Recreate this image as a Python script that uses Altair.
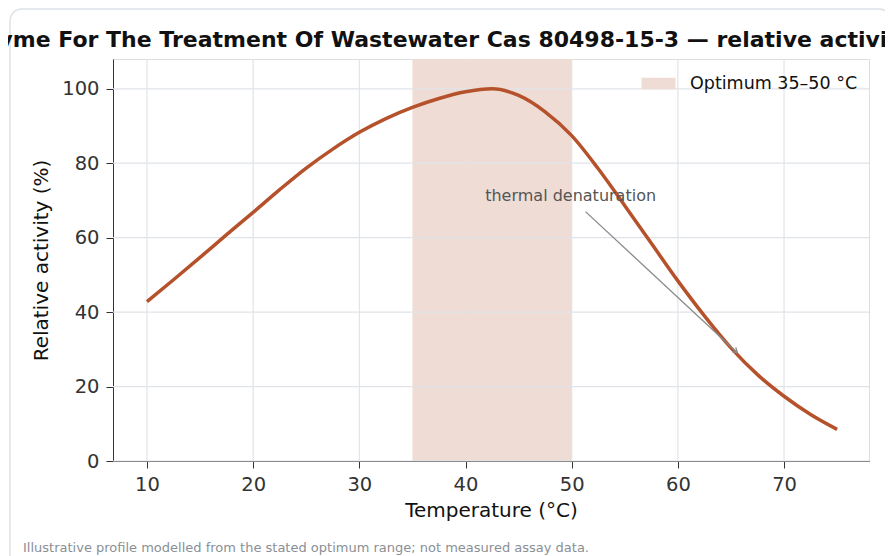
import altair as alt
import pandas as pd

# ---- data ----
temps = [10, 12.5, 15, 17.5, 20, 22.5, 25, 27.5, 30, 32.5, 35, 37.5, 40, 42.5,
         45, 47.5, 50, 52.5, 55, 57.5, 60, 62.5, 65, 67.5, 70, 72.5, 75]
activity = [42.8, 48.7, 54.7, 60.8, 66.8, 72.9, 78.7, 83.8, 88.3, 92.0, 95.0, 97.4, 99.2, 100.0,
            98.2, 93.8, 87.4, 78.5, 68.6, 58.5, 48.4, 39.0, 30.4, 23.2, 17.4, 12.5, 8.5]
band_label = "Optimum 35–50 °C"
band_start, band_end = 35, 50
x_ticks = [10, 20, 30, 40, 50, 60, 70]
y_ticks = [0, 20, 40, 60, 80, 100]
annot_text = "thermal denaturation"
annot_xy = (49.9, 71.3)
arrow_from = (51.3, 67.0)
arrow_to = (65.6, 29.1)
title_text = "Enzyme For The Treatment Of Wastewater Cas 80498-15-3 — relative activity"
footnote = "Illustrative profile modelled from the stated optimum range; not measured assay data."

LINE = "#b5522b"
BAND = "#efdcd5"
GRID = "#e0e4e9"
FONT = "DejaVu Sans"

W, H = 756, 402
XDOM = [6.8, 78.0]
YDOM = [0, 108]

curve = pd.DataFrame({"t": temps, "a": activity})
band = pd.DataFrame({"s": [band_start], "e": [band_end], "lab": [band_label]})

xs = alt.Scale(domain=XDOM, nice=False, zero=False)
ys = alt.Scale(domain=YDOM, nice=False, zero=False)

xaxis = alt.Axis(values=x_ticks, grid=False, labelFontSize=19.5, labelColor="#333",
                 titleFontSize=20, titleColor="#111", titleFontWeight="normal",
                 tickSize=7, tickColor="#333", domainColor="#333", labelPadding=7,
                 titlePadding=7, labelFont=FONT, titleFont=FONT)
yaxis = alt.Axis(values=y_ticks, grid=False, labelFontSize=19.5, labelColor="#333",
                 titleFontSize=20, titleColor="#111", titleFontWeight="normal",
                 tickSize=7, tickColor="#333", domainColor="#333", labelPadding=7,
                 titlePadding=10, labelFont=FONT, titleFont=FONT)

frame = alt.Chart(pd.DataFrame({"k": [0]})).mark_rect(
    fill=None, stroke="#dde1e6", strokeWidth=1.5, cornerRadius=12, clip=False
).encode(x=alt.value(-103), x2=alt.value(778), y=alt.value(-50), y2=alt.value(560))

band_layer = alt.Chart(band).mark_rect().encode(
    x=alt.X("s:Q", scale=xs, axis=xaxis, title="Temperature (°C)"),
    x2="e:Q",
    color=alt.Color("lab:N", scale=alt.Scale(domain=[band_label], range=[BAND]),
                    legend=alt.Legend(title=None, orient="none", legendX=534, legendY=13,
                                      symbolType="M-1.5,-0.5H1.5V0.5H-1.5Z", symbolSize=514,
                                      symbolStrokeWidth=0, labelFontSize=17.5, labelColor="#111",
                                      labelFont=FONT, padding=0, labelOffset=20, labelLimit=400)),
)

vgrid = alt.Chart(pd.DataFrame({"v": x_ticks})).mark_rule(color=GRID, strokeWidth=1.2).encode(
    x=alt.X("v:Q", scale=xs))
hgrid = alt.Chart(pd.DataFrame({"v": y_ticks})).mark_rule(color=GRID, strokeWidth=1.2).encode(
    y=alt.Y("v:Q", scale=ys, axis=yaxis, title="Relative activity (%)"))

line = alt.Chart(curve).mark_line(color=LINE, strokeWidth=3.5, interpolate="monotone").encode(
    x=alt.X("t:Q", scale=xs), y=alt.Y("a:Q", scale=ys))

arrow_df = pd.DataFrame({"x": [arrow_from[0]], "y": [arrow_from[1]],
                         "x2": [arrow_to[0]], "y2": [arrow_to[1]]})
arrow_line = alt.Chart(arrow_df).mark_rule(color="#8a8a8a", strokeWidth=1.3).encode(
    x=alt.X("x:Q", scale=xs), y=alt.Y("y:Q", scale=ys), x2="x2:Q", y2="y2:Q")
arrow_head = alt.Chart(arrow_df).mark_point(
    shape="M-1,-0.6L0,0L-1,0.6", filled=False, stroke="#8a8a8a", strokeWidth=1.3,
    size=90, angle=43, opacity=1
).encode(x=alt.X("x2:Q", scale=xs), y=alt.Y("y2:Q", scale=ys))

annot = alt.Chart(pd.DataFrame({"x": [annot_xy[0]], "y": [annot_xy[1]], "t": [annot_text]})).mark_text(
    fontSize=16, color="#555", font=FONT, align="center", baseline="middle"
).encode(x=alt.X("x:Q", scale=xs), y=alt.Y("y:Q", scale=ys), text="t:N")

title = alt.Chart(pd.DataFrame({"t": [title_text]})).mark_text(
    fontSize=22, fontWeight="bold", color="#111", font=FONT, align="left", baseline="alphabetic"
).encode(x=alt.value(-158), y=alt.value(-12), text="t:N")

foot = alt.Chart(pd.DataFrame({"t": [footnote]})).mark_text(
    fontSize=13, color="#8a8f96", font=FONT, align="left", baseline="alphabetic"
).encode(x=alt.value(-90), y=alt.value(493), text="t:N")

chart = alt.layer(frame, band_layer, vgrid, hgrid, line, arrow_line, arrow_head, annot, title, foot).properties(
    width=W, height=H,
    padding={"left": 105, "top": 51, "right": 16, "bottom": 95},
    autosize=alt.AutoSizeParams(type="none"),
).configure_view(stroke="#333", strokeWidth=1.3).configure(background="white")

chart.save("out.html", embed_options={"renderer": "svg", "actions": False})
